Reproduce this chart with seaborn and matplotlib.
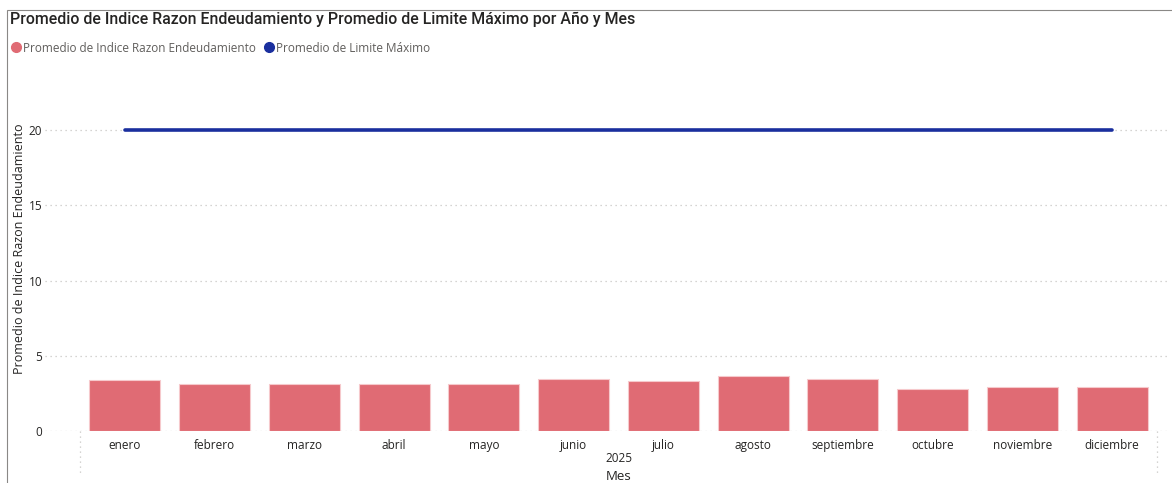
import matplotlib.pyplot as plt
import pandas as pd
import seaborn as sns
from matplotlib.patches import Rectangle
from matplotlib.lines import Line2D

meses = ["enero", "febrero", "marzo", "abril", "mayo", "junio", "julio",
         "agosto", "septiembre", "octubre", "noviembre", "diciembre"]
indice_razon = [3.39, 3.10, 3.10, 3.14, 3.12, 3.48, 3.34, 3.63, 3.47, 2.76, 2.91, 2.91]
limite_maximo = [20, 20, 20, 20, 20, 20, 20, 20, 20, 20, 20, 20]
anio = "2025"

bar_color = "#E06B74"
line_color = "#1A2F9E"
text_gray = "#605E5C"

data = pd.DataFrame({"mes": meses, "indice": indice_razon, "limite": limite_maximo})
data["pos"] = range(len(meses))

sns.set_style("white")
plt.rcParams["font.family"] = ["Open Sans", "DejaVu Sans"]

fig = plt.figure(figsize=(11.72, 4.83), dpi=100)
ax = fig.add_axes([0.0384, 0.1077, 0.9596, 0.7163])

sns.barplot(data=data, x="mes", y="indice", order=meses, color=bar_color,
            saturation=1, width=0.79, edgecolor="#F6C9CC", linewidth=0.8, ax=ax, zorder=2)
sns.lineplot(data=data, x="pos", y="limite", color=line_color, linewidth=2.6, ax=ax, zorder=3)

ax.set_xlim(-0.89, 11.64)
ax.set_ylim(0, 23)
ax.set_yticks([0, 5, 10, 15, 20])
ax.set_xticks(range(len(meses)))
ax.set_xticklabels(meses)
ax.tick_params(axis="both", length=0, labelsize=8.5, labelcolor="#252423")
ax.tick_params(axis="y", pad=2)
ax.tick_params(axis="x", pad=6)
ax.grid(axis="y", linestyle=(0, (1, 3)), color="#C8C6C4", linewidth=0.9, zorder=0)
ax.set_axisbelow(True)
for s in ax.spines.values():
    s.set_visible(False)

ax.set_xlabel("")
ax.set_ylabel("Promedio de Indice Razon Endeudamiento", fontsize=9, color="#252423")
ax.yaxis.set_label_coords(-0.017, 0.526)

# separadores de jerarquia bajo el eje
for xv in [-0.5, 11.5]:
    ax.plot([xv, xv], [0, -0.13], transform=ax.get_xaxis_transform(), clip_on=False,
            linestyle=(0, (1, 3)), color="#C8C6C4", linewidth=0.9)

fig.text(0.5277, 1 - 458 / 483, anio, ha="center", va="center", fontsize=8.5, color="#252423")
fig.text(0.5277, 1 - 476 / 483, "Mes", ha="center", va="center", fontsize=9.5, color="#252423")

# titulo y leyenda
fig.text(10 / 1172, 1 - 19 / 483, "Promedio de Indice Razon Endeudamiento y Promedio de Limite Máximo por Año y Mes",
         ha="left", va="center", fontsize=11.4, fontweight="medium", color="#252423",
         family=["Roboto", "DejaVu Sans"])
handles = [Line2D([], [], marker="o", linestyle="", color=bar_color, markersize=7),
           Line2D([], [], marker="o", linestyle="", color=line_color, markersize=7)]
fig.legend(handles, ["Promedio de Indice Razon Endeudamiento", "Promedio de Limite Máximo"],
           loc="center left", bbox_to_anchor=(-2 / 1172, 1 - 48 / 483), ncol=2, frameon=False,
           fontsize=8.5, labelcolor=text_gray, handletextpad=0.0, columnspacing=0.5, handlelength=1.2)

# borde del visual
fig.patches.append(Rectangle((7 / 1172, -0.1), 1.2, 1 - 10 / 483 + 0.1, transform=fig.transFigure,
                             fill=False, edgecolor="#8A8886", linewidth=0.8))

fig.savefig("out.png", dpi=100)
